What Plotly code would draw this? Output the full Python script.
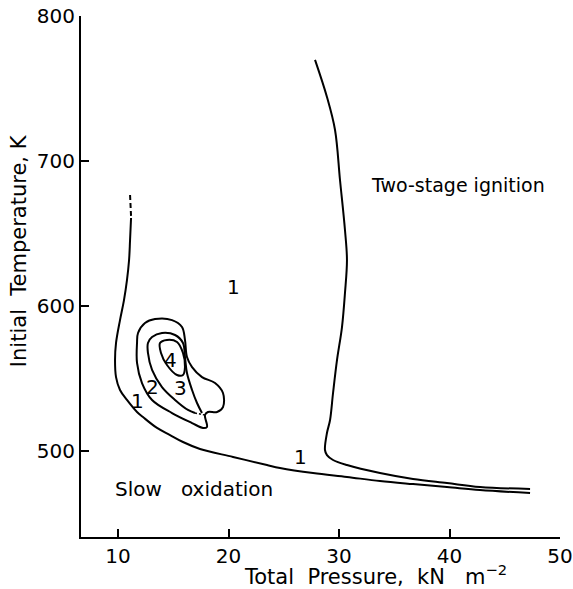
import plotly.graph_objects as go

# Lower boundary (curve 1, left branch + lower envelope)
a_dash_p = [11.09, 11.18]
a_dash_t = [676.6, 662.0]
a_p = [11.18, 11.09, 11.00, 10.81, 10.54, 10.18, 9.82, 9.73, 9.82, 10.18, 10.81, 11.72, 12.26,
       13.53, 14.71, 15.88, 17.42, 20.41, 23.48, 24.66, 27.65, 30.72, 33.71, 36.70, 39.77,
       42.76, 47.29]
a_t = [660.7, 645.5, 631.7, 617.9, 604.1, 590.3, 574.5, 562.8, 551.0, 542.1, 535.2, 526.9, 523.4,
       515.9, 511.0, 506.2, 501.4, 495.9, 490.3, 488.3, 484.8, 482.1, 479.3, 477.2, 475.2,
       473.1, 471.0]

# Two-stage ignition boundary
b_p = [27.83, 28.91, 29.64, 30.09, 30.54, 30.72, 30.54, 30.27, 29.82, 29.46, 29.19, 28.91,
       28.73, 28.91, 29.46, 30.72, 33.71, 36.70, 39.77, 42.76, 47.29]
b_t = [769.7, 744.1, 721.4, 686.9, 652.4, 631.7, 609.0, 585.5, 562.8, 540.0, 521.4, 512.4,
       500.7, 497.2, 493.8, 490.3, 484.8, 480.7, 477.9, 475.2, 473.8]

# Contour 2
c2_p = [11.72, 11.81, 12.44, 13.35, 14.89, 15.79, 16.06, 16.24, 16.70, 17.60, 18.78, 19.50,
        19.50, 18.96, 18.14, 17.87, 18.05, 17.69, 16.70, 14.89, 13.08, 12.17, 11.72, 11.72]
c2_t = [574.5, 581.4, 588.3, 591.0, 590.3, 585.5, 576.6, 564.8, 557.9, 551.0, 546.9, 540.0,
        530.3, 526.9, 526.9, 524.8, 516.6, 515.9, 519.3, 526.2, 535.2, 546.9, 560.7, 574.5]

# Contour 3
c3_p = [16.97, 16.33, 15.16, 13.98, 13.08, 12.71, 12.71, 13.08, 13.98, 15.16, 15.88, 16.06,
        16.24, 16.70, 17.15, 17.60]
c3_t = [526.2, 528.3, 535.2, 544.1, 555.9, 567.6, 574.5, 578.6, 581.4, 580.0, 574.5, 564.8,
        553.8, 542.1, 533.1, 526.2]
c3_link_p = [16.97, 17.87]
c3_link_t = [526.2, 524.8]

# Contour 4
c4_p = [13.80, 14.43, 15.34, 15.88, 16.06, 15.88, 15.34, 14.43, 13.89, 13.80]
c4_t = [574.5, 576.6, 575.2, 567.6, 557.9, 552.4, 552.4, 559.3, 567.6, 574.5]

# Labels
lab_text = ["1", "1", "2", "3", "4", "1"]
lab_p = [20.41, 11.72, 13.08, 15.61, 14.71, 26.47]
lab_t = [613.1, 534.5, 544.1, 543.4, 562.8, 495.9]

region_text = ["Two-stage ignition", "Slow&nbsp;&nbsp;&nbsp;oxidation"]
region_p = [40.77, 16.92]
region_t = [683.4, 473.8]
region_size = [19, 20]

x_ticks = [10, 20, 30, 40, 50]
y_ticks = [500, 600, 700, 800]

FONT = "DejaVu Sans"
line = dict(color="black", width=2)

fig = go.Figure()
fig.add_trace(go.Scatter(x=a_dash_p, y=a_dash_t, mode="lines",
                         line=dict(color="black", width=2, dash="5px,3px")))
for xs, ys in [(a_p, a_t), (b_p, b_t), (c2_p, c2_t), (c3_p, c3_t), (c4_p, c4_t)]:
    fig.add_trace(go.Scatter(x=xs, y=ys, mode="lines", line=line,
                             line_shape="spline"))
fig.add_trace(go.Scatter(x=c3_link_p, y=c3_link_t, mode="lines",
                         line=dict(color="black", width=1.5, dash="2px,2px")))

for t, x, y in zip(lab_text, lab_p, lab_t):
    fig.add_annotation(x=x, y=y, text=t, showarrow=False,
                       font=dict(family=FONT, size=20, color="black"))
for t, x, y, s in zip(region_text, region_p, region_t, region_size):
    fig.add_annotation(x=x, y=y, text=t, showarrow=False,
                       font=dict(family=FONT, size=s, color="black"))

fig.add_annotation(xref="paper", yref="paper", x=0.614, y=-0.072,
                   xanchor="center", yanchor="middle",
                   text="Total&nbsp;&nbsp;Pressure,&nbsp;&nbsp;kN&nbsp;&nbsp;&nbsp;m<sup>−2</sup>",
                   showarrow=False, font=dict(family=FONT, size=21, color="black"))
fig.add_annotation(xref="paper", yref="paper", x=-0.128, y=0.55, textangle=-90,
                   xanchor="center", yanchor="middle",
                   text="Initial&nbsp;&nbsp;Temperature,&nbsp;K", showarrow=False,
                   font=dict(family=FONT, size=21, color="black"))

fig.update_layout(
    width=573, height=589,
    margin=dict(l=81, r=13, t=16, b=52, autoexpand=False),
    paper_bgcolor="white", plot_bgcolor="white",
    showlegend=False,
    font=dict(family=FONT, size=20, color="black"),
)
fig.update_xaxes(range=[6.65, 50], tickvals=x_ticks, ticks="inside", ticklen=8,
                 tickwidth=1.5, tickcolor="black", showline=True, linecolor="black",
                 linewidth=2, showgrid=False, zeroline=False, automargin=False,
                 tickfont=dict(family=FONT, size=20, color="black"))
fig.update_yaxes(range=[440.7, 800], tickvals=y_ticks, ticks="inside", ticklen=8,
                 tickwidth=1.5, tickcolor="black", showline=True, linecolor="black",
                 linewidth=2, showgrid=False, zeroline=False, automargin=False,
                 tickfont=dict(family=FONT, size=20, color="black"))

fig.write_html("out.html", config={"displayModeBar": False},
               post_script="document.body.style.margin='0px';document.body.style.overflow='hidden';")
